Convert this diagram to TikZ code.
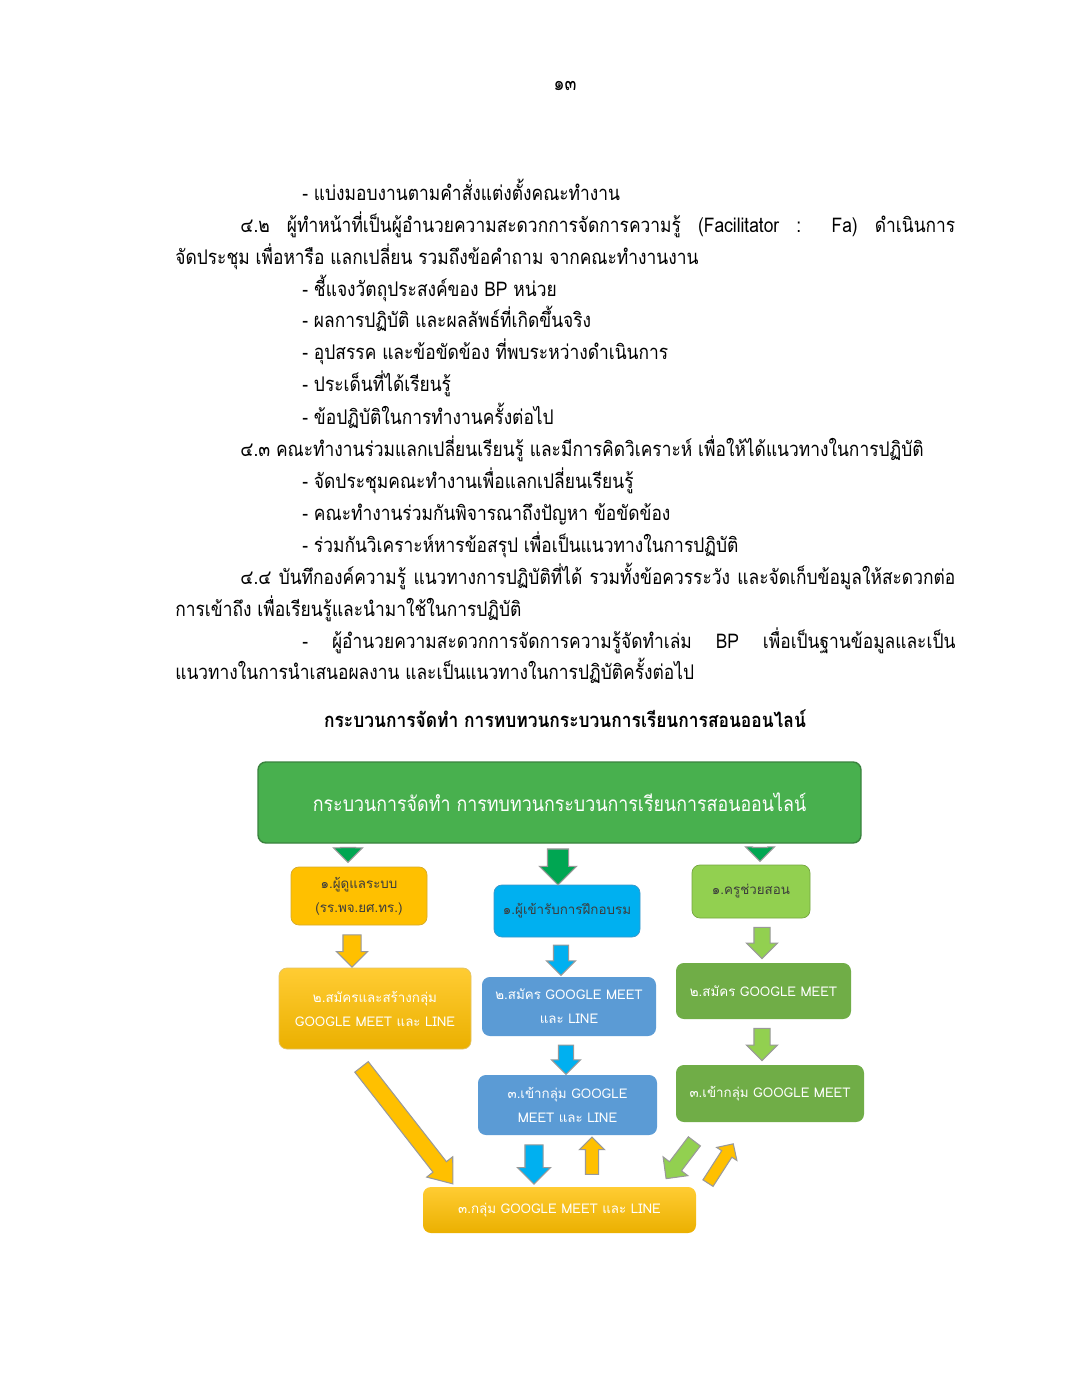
\documentclass[tikz,border=0pt]{standalone}
\usepackage{fontspec}
\setmainfont{Loma}[Script=Thai]
\newfontfamily\bodyface{Loma}[Script=Thai, FakeStretch=0.86]
\usetikzlibrary{shapes.arrows,calc}

\definecolor{headgreen}{RGB}{72,176,78}
\definecolor{headedge}{RGB}{58,130,62}
\definecolor{arrgreen}{RGB}{0,166,82}
\definecolor{gold}{RGB}{255,192,0}
\definecolor{goldtop}{RGB}{255,204,51}
\definecolor{goldbot}{RGB}{235,176,0}
\definecolor{goldedge}{RGB}{214,170,40}
\definecolor{skyblue}{RGB}{0,176,240}
\definecolor{skyedge}{RGB}{60,150,200}
\definecolor{steelblue}{RGB}{91,155,213}
\definecolor{lightgreen}{RGB}{146,208,80}
\definecolor{leafgreen}{RGB}{112,173,71}
\definecolor{darktext}{RGB}{60,60,60}

\def\px{0.56875pt}
\newcommand\bodyfont{\bodyface\fontsize{11.5}{14}\selectfont}
\newcommand\boxfont{\fontsize{7.6}{13.6}\selectfont}

% block arrow from #2 to #3
\newcommand\blockarrow[3][]{%
  \path let \p1=($(#3)-(#2)$), \n1={atan2(\y1,\x1)}, \n2={veclen(\x1,\y1)} in
    node[barrow, #1, minimum height=\n2, rotate=\n1] at ($(#2)!0.5!(#3)$) {};}

\tikzset{
  line/.style={anchor=base west, inner sep=0pt, font=\bodyfont},
  box/.style={rounded corners=4.5pt, inner sep=2pt, align=center, font=\boxfont},
  barrow/.style={single arrow, draw=gray!80, line width=0.6pt, inner xsep=0pt,
    single arrow head indent=0pt},
  asize/.style 2 args={inner ysep=#1/2*\px, single arrow head extend=(#2-#1)/2*\px},
}

\begin{document}
\begin{tikzpicture}[x=0.56875pt,y=-0.56875pt]
\useasboundingbox (0,0) rectangle (1080,1397);
\fill[white] (0,0) rectangle (1080,1397);

% page number and body text
\node[line, anchor=base] (pnum) at (565,91) {๑๓};
\node[line] (l1) at (302,201) {- แบ่งมอบงานตามคำสั่งแต่งตั้งคณะทำงาน};
\node[line] (l2) at (240,233) {\makebox[406.6pt][s]{๔.๒ ผู้ทำหน้าที่เป็นผู้อำนวยความสะดวกการจัดการความรู้ (Facilitator : Fa) ดำเนินการ}};
\node[line] (l3) at (175,265) {จัดประชุม เพื่อหารือ แลกเปลี่ยน รวมถึงข้อคำถาม จากคณะทำงานงาน};
\node[line] (l4) at (302,297) {- ชี้แจงวัตถุประสงค์ของ BP หน่วย};
\node[line] (l5) at (302,328) {- ผลการปฏิบัติ และผลลัพธ์ที่เกิดขึ้นจริง};
\node[line] (l6) at (302,360) {- อุปสรรค และข้อขัดข้อง ที่พบระหว่างดำเนินการ};
\node[line] (l7) at (302,392) {- ประเด็นที่ได้เรียนรู้};
\node[line] (l8) at (302,424) {- ข้อปฏิบัติในการทำงานครั้งต่อไป};
\node[line] (l9) at (240,456) {๔.๓ คณะทำงานร่วมแลกเปลี่ยนเรียนรู้ และมีการคิดวิเคราะห์ เพื่อให้ได้แนวทางในการปฏิบัติ};
\node[line] (l10) at (302,488) {- จัดประชุมคณะทำงานเพื่อแลกเปลี่ยนเรียนรู้};
\node[line] (l11) at (302,520) {- คณะทำงานร่วมกันพิจารณาถึงปัญหา ข้อขัดข้อง};
\node[line] (l12) at (302,552) {- ร่วมกันวิเคราะห์หารข้อสรุป เพื่อเป็นแนวทางในการปฏิบัติ};
\node[line] (l13) at (240,584) {\makebox[406.6pt][s]{๔.๔ บันทึกองค์ความรู้ แนวทางการปฏิบัติที่ได้ รวมทั้งข้อควรระวัง และจัดเก็บข้อมูลให้สะดวกต่อ}};
\node[line] (l14) at (175,616) {การเข้าถึง เพื่อเรียนรู้และนำมาใช้ในการปฏิบัติ};
\node[line] (l15) at (302,648) {\makebox[371.4pt][s]{- ผู้อำนวยความสะดวกการจัดการความรู้จัดทำเล่ม BP เพื่อเป็นฐานข้อมูลและเป็น}};
\node[line] (l16) at (175,679) {แนวทางในการนำเสนอผลงาน และเป็นแนวทางในการปฏิบัติครั้งต่อไป};
\node[line, anchor=base, font=\bodyfont\bfseries] (title) at (565,727) {กระบวนการจัดทำ การทบทวนกระบวนการเรียนการสอนออนไลน์};

% flow chart
\node[box, fill=headgreen, draw=headedge, line width=0.8pt, text=white,
  minimum width=603*\px, minimum height=81*\px, font=\bodyface\fontsize{11.8}{14}\selectfont]
  (head) at (559.5,802.5) {กระบวนการจัดทำ การทบทวนกระบวนการเรียนการสอนออนไลน์};

\node[box, fill=gold, draw=goldedge, text=darktext, minimum width=136*\px, minimum height=58*\px]
  (a1) at (359,896) {๑.ผู้ดูแลระบบ\\(รร.พจ.ยศ.ทร.)};
\node[box, fill=skyblue, draw=skyedge, text=darktext, minimum width=146*\px, minimum height=52*\px]
  (b1) at (567,911) {๑.ผู้เข้ารับการฝึกอบรม};
\node[box, fill=lightgreen, draw=lightgreen!80!black, text=darktext, minimum width=118*\px, minimum height=53*\px]
  (c1) at (751,891.5) {๑.ครูช่วยสอน};

\node[box, top color=goldtop, bottom color=goldbot, draw=goldedge!70, text=white, minimum width=192*\px, minimum height=81*\px]
  (a2) at (375,1008.5) {๒.สมัครและสร้างกลุ่ม\\GOOGLE MEET และ LINE};
\node[box, fill=steelblue, text=white, minimum width=174*\px, minimum height=59*\px]
  (b2) at (569,1006.5) {๒.สมัคร GOOGLE MEET\\และ LINE};
\node[box, fill=leafgreen, text=white, minimum width=175*\px, minimum height=56*\px]
  (c2) at (763.5,991) {๒.สมัคร GOOGLE MEET};
\node[box, fill=steelblue, text=white, minimum width=179*\px, minimum height=60*\px]
  (b3) at (567.5,1105) {๓.เข้ากลุ่ม GOOGLE\\MEET และ LINE};
\node[box, fill=leafgreen, text=white, minimum width=188*\px, minimum height=57*\px]
  (c3) at (770,1093.5) {๓.เข้ากลุ่ม GOOGLE MEET};
\node[box, top color=goldtop, bottom color=goldbot, text=white, minimum width=273*\px, minimum height=46*\px]
  (d) at (559.5,1210) {๓.กลุ่ม GOOGLE MEET และ LINE};

% arrows
\blockarrow[fill=arrgreen, asize={14}{28}]{$(head.south-|a1)+(-11,0)$}{$(a1.north)+(-11,-8)$}
\blockarrow[fill=arrgreen, asize={20}{36}]{$(head.south-|b1)+(-9,0)$}{$(b1.north)+(-9,-5)$}
\blockarrow[fill=arrgreen, asize={14}{28}]{$(head.south-|c1)+(9,0)$}{$(c1.north)+(9,-7)$}
\blockarrow[fill=gold, asize={17}{30}]{$(a1.south)+(-7,5)$}{$(a2.north)+(-23,-5)$}
\blockarrow[fill=skyblue, asize={14}{28}]{$(b1.south)+(-6,4)$}{$(b2.north)+(-8,-5)$}
\blockarrow[fill=lightgreen, asize={15}{30}]{$(c1.south)+(11,5)$}{$(c2.north)+(-1.5,-8)$}
\blockarrow[fill=skyblue, asize={14}{28}]{$(b2.south)+(-3,5)$}{$(b3.north)+(-1.5,-4)$}
\blockarrow[fill=lightgreen, asize={15}{30}]{$(c2.south)+(-1.5,5)$}{$(c3.north)+(-8,-8)$}
\blockarrow[fill=gold, asize={16}{32}, single arrow tip angle=75]{$(a2.south)+(-17,13)$}{$(d.north west)+(27,-7)$}
\blockarrow[fill=skyblue, asize={17}{32}]{$(b3.south)+(-33.5,5)$}{$(d.north)+(-25.5,-7)$}
\blockarrow[fill=gold, asize={12}{24}]{$(d.north)+(32.5,-9)$}{$(b3.south)+(24.5,5)$}
\blockarrow[fill=lightgreen, asize={14}{30}]{$(c3.south west)+(21,16)$}{$(d.north east)+(-28,-11)$}
\blockarrow[fill=gold, asize={11}{23}]{$(d.north east)+(10,-1)$}{$(c3.south west)+(56,24)$}
\end{tikzpicture}
\end{document}
